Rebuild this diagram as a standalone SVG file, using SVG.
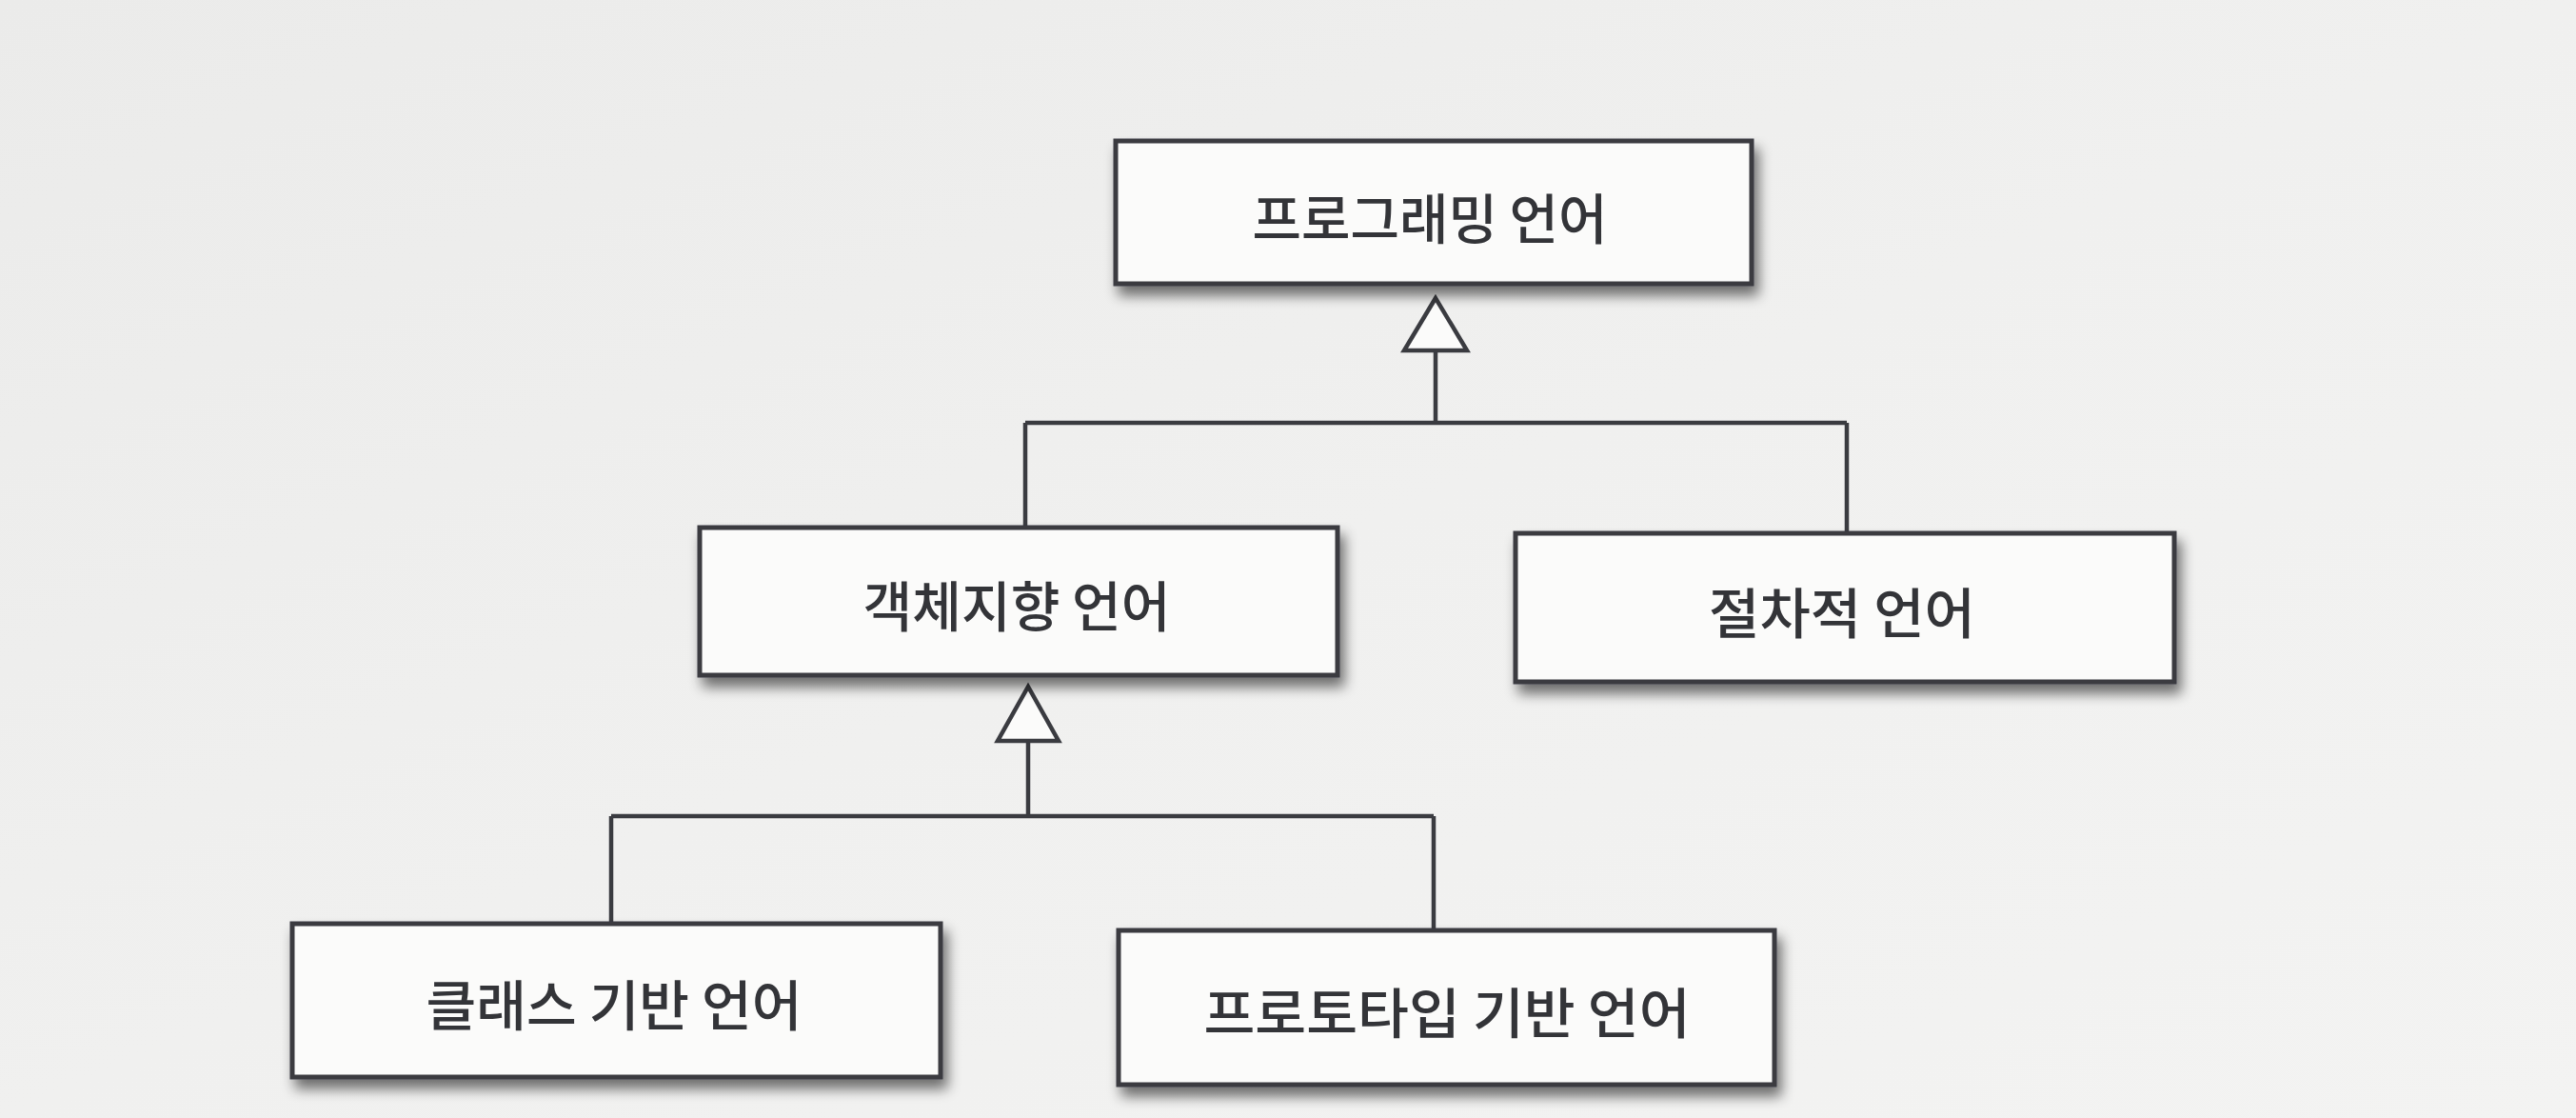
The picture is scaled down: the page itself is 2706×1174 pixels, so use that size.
<svg xmlns="http://www.w3.org/2000/svg" width="2706" height="1174" viewBox="0 0 2706 1174">
  <defs>
    <linearGradient id="bg" x1="0" y1="0" x2="1" y2="1">
      <stop offset="0" stop-color="#ebebea"/>
      <stop offset="0.5" stop-color="#f0f0ef"/>
      <stop offset="1" stop-color="#f3f3f2"/>
    </linearGradient>
    <filter id="shadow" x="-10%" y="-10%" width="125%" height="140%">
      <feGaussianBlur in="SourceAlpha" stdDeviation="7"/>
      <feOffset dx="5" dy="10" result="b"/>
      <feComponentTransfer in="b" result="s">
        <feFuncA type="linear" slope="0.55"/>
      </feComponentTransfer>
      <feMerge>
        <feMergeNode in="s"/>
        <feMergeNode in="SourceGraphic"/>
      </feMerge>
    </filter>
  </defs>
  <style>
    .box { fill: #fbfbfa; stroke: #3a3b40; stroke-width: 5; filter: url(#shadow); }
    .lbl { font-family: "Noto Sans CJK KR", "Noto Sans", sans-serif; font-size: 57px; font-weight: 500; fill: #333438; text-anchor: middle; dominant-baseline: central; }
    .conn { fill: none; stroke: #3a3b40; stroke-width: 4.5; }
    .tri { fill: #fbfbfa; stroke: #3a3b40; stroke-width: 4.5; stroke-linejoin: miter; }
  </style>
  <rect x="0" y="0" width="2706" height="1174" fill="url(#bg)"/>

  <g id="connectors">
    <path class="conn" d="M1508,368 L1508,444 M1077,444 L1940,444 M1077,444 L1077,554 M1940,444 L1940,560"/>
    <polygon class="tri" points="1508,313 1475,368 1541,368"/>
    <path class="conn" d="M1080,778 L1080,857 M642,857 L1506,857 M642,857 L642,970 M1506,857 L1506,977"/>
    <polygon class="tri" points="1080,721 1048,778 1112,778"/>
  </g>

  <g id="node-programming">
    <rect class="box" x="1172" y="148" width="668" height="150"/>
    <text class="lbl" x="1502" y="226" textLength="373" lengthAdjust="spacingAndGlyphs">프로그래밍 언어</text>
  </g>
  <g id="node-oop">
    <rect class="box" x="735" y="554" width="670" height="155"/>
    <text class="lbl" x="1068" y="633" textLength="323" lengthAdjust="spacingAndGlyphs">객체지향 언어</text>
  </g>
  <g id="node-procedural">
    <rect class="box" x="1592" y="560" width="692" height="156"/>
    <text class="lbl" x="1935" y="640" textLength="280" lengthAdjust="spacingAndGlyphs">절차적 언어</text>
  </g>
  <g id="node-class">
    <rect class="box" x="307" y="970" width="681" height="161"/>
    <text class="lbl" x="645" y="1052" textLength="395" lengthAdjust="spacingAndGlyphs">클래스 기반 언어</text>
  </g>
  <g id="node-prototype">
    <rect class="box" x="1175" y="977" width="689" height="162"/>
    <text class="lbl" x="1520" y="1060" textLength="511" lengthAdjust="spacingAndGlyphs">프로토타입 기반 언어</text>
  </g>
</svg>
